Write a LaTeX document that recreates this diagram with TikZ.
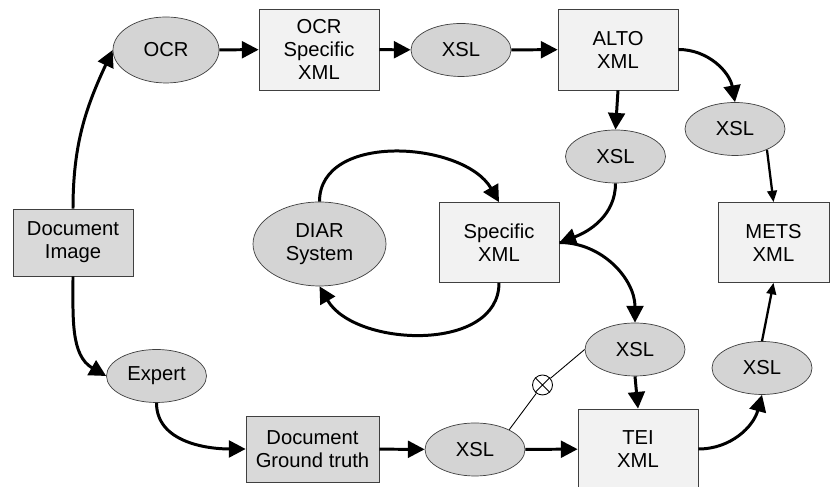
\documentclass[tikz,border=0pt]{standalone}
\usepackage{fontspec}
\setmainfont{Liberation Sans}
\usetikzlibrary{arrows.meta,shapes.geometric}
\definecolor{xmlgray}{HTML}{F2F2F2}
\definecolor{docgray}{HTML}{D9D9D9}
\definecolor{procgray}{HTML}{D4D4D4}
\tikzset{
  docbox/.style={draw=black!75, fill=docgray, minimum width=2.4cm, minimum height=1.34cm, inner sep=0pt, align=center},
  xmlbox/.style={draw=black!75, fill=xmlgray, minimum width=2.4cm, minimum height=1.6cm, inner sep=0pt, align=center},
  proc/.style={ellipse, draw=black!75, fill=procgray, minimum width=2cm, minimum height=1.06cm, inner sep=0pt, align=center},
  flow/.style={->, line width=1.7pt},
  thinflow/.style={-{Triangle[length=6.5pt,width=5.5pt]}, line width=1.3pt},
}

\begin{document}
\begin{tikzpicture}[>={Triangle[length=9.5pt,width=9.5pt]},
    every node/.style={font=\fontsize{11.5}{13.1}\selectfont}]
         \useasboundingbox (0,0) rectangle (16.6,9.74);

         \node [docbox] (img) at (1.46,4.89) {Document\\Image};
         \node [proc, minimum width=2.12cm, minimum height=1.32cm] (ocr) at (3.32,8.74) {OCR};
         \node [xmlbox, minimum height=1.62cm] (ocrxml) at (6.38,8.75) {OCR\\Specific\\XML};
         \node [proc] (xsla) at (9.22,8.74) {XSL};
         \node [xmlbox, minimum height=1.62cm] (alto) at (12.36,8.75) {ALTO\\XML};
         \node [proc] (xslb) at (12.31,6.61) {XSL};
         \node [proc] (xslc) at (14.7,7.16) {XSL};
         \node [xmlbox, minimum width=2.22cm] (mets) at (15.47,4.89) {METS\\XML};

         \node [proc, minimum width=2.66cm, minimum height=1.68cm] (diar) at (6.39,4.86) {DIAR\\System};
         \node [xmlbox] (spec) at (9.98,4.89) {Specific\\XML};

         \node [proc] (expert) at (3.13,2.22) {Expert};
         \node [docbox, minimum width=2.66cm, minimum height=1.32cm] (gt) at (6.25,0.76) {Document\\Ground truth};
         \node [proc] (xsld) at (9.5,0.75) {XSL};
         \node [xmlbox] (tei) at (12.76,0.76) {TEI\\XML};
         \node [proc] (xsle) at (12.7,2.75) {XSL};
         \node [proc] (xslf) at (15.24,2.38) {XSL};
         \node [circle, draw, line width=0.5pt, minimum size=0.4cm, inner sep=0pt] (mix) at (10.85,2.04) {};

         % OCR chain
         \draw [flow] (img.north) to[out=90,in=245] (ocr.west);
         \draw [flow] (ocr) -- (ocrxml);
         \draw [flow] (ocrxml) -- (xsla);
         \draw [flow] (xsla) -- (alto);
         \draw [flow] (alto.south) -- (xslb.north);
         \draw [flow] (alto.east) to[out=0,in=100] (xslc.north);
         \draw [thinflow] (xslc.-33) -- (mets.north);
         \draw [flow] (xslb.south) to[out=-90,in=20] (spec.east);

         % DIAR loop
         \draw [flow] (diar.north) to[out=90,in=120] (spec.north);
         \draw [flow] (spec.south) to[out=-90,in=-60] (diar.south);

         % ground truth chain
         \draw [flow] (img.south) to[out=-90,in=150] (expert.west);
         \draw [flow] (expert.south) to[out=-90,in=180] (gt.west);
         \draw [flow] (gt) -- (xsld);
         \draw [flow] (xsld) -- (tei);
         \draw [flow] (spec.east) to[out=0,in=90] (xsle.north);
         \draw [flow] (xsle.south) -- (tei.north);
         \draw [flow] (tei.east) to[out=0,in=-105] (xslf.south);
         \draw [thinflow] (xslf.north) -- (mets.south);

         % comparison
         \draw [line width=0.5pt] (xsld.30) -- (mix) -- (xsle.west);
         \draw [line width=0.5pt] (mix.45) -- (mix.225) (mix.135) -- (mix.315);
\end{tikzpicture}
\end{document}
